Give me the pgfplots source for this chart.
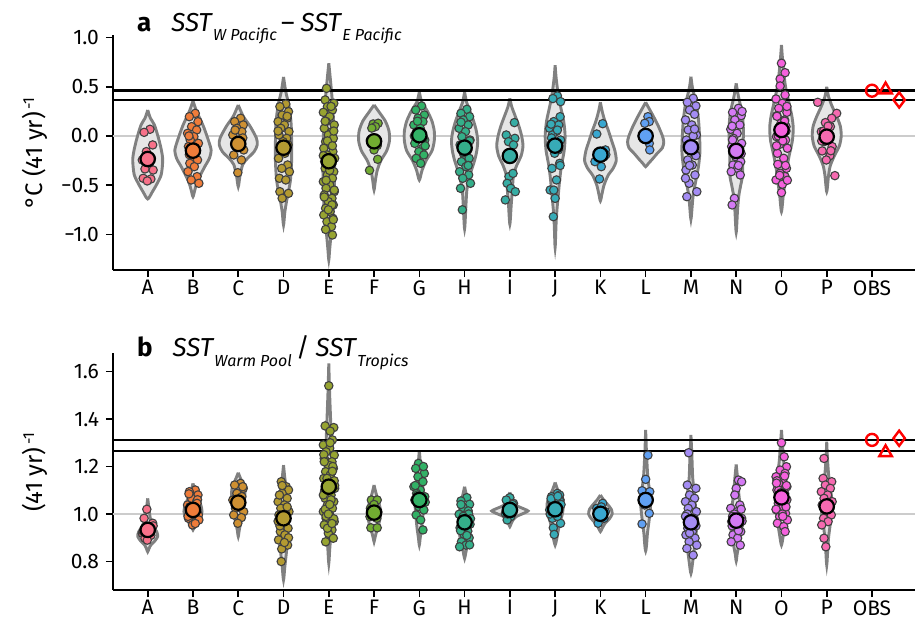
\documentclass[border=0pt]{standalone}
\usepackage{pgfplots}
\pgfplotsset{compat=1.18}
\usepackage{fontspec}
\setmainfont{Fira Sans}
\definecolor{cA}{HTML}{F77189}
\definecolor{cB}{HTML}{EF7C3A}
\definecolor{cC}{HTML}{CE9032}
\definecolor{cD}{HTML}{B39A31}
\definecolor{cE}{HTML}{97A431}
\definecolor{cF}{HTML}{72AC31}
\definecolor{cG}{HTML}{32B166}
\definecolor{cH}{HTML}{34AF8A}
\definecolor{cI}{HTML}{36ADA4}
\definecolor{cJ}{HTML}{37ABB7}
\definecolor{cK}{HTML}{39A7D0}
\definecolor{cL}{HTML}{60A0F3}
\definecolor{cM}{HTML}{A48CF4}
\definecolor{cN}{HTML}{D47AF4}
\definecolor{cO}{HTML}{F561DD}
\definecolor{cP}{HTML}{F66AB0}
\definecolor{vgray}{HTML}{808080}
\definecolor{vfill}{HTML}{E6E6E6}
\definecolor{edgegray}{HTML}{404040}
\definecolor{zgray}{HTML}{CCCCCC}
\pgfplotsset{
  panel/.style={
    scale only axis, width=401pt,
    xmin=-0.767, xmax=16.95,
    axis x line*=bottom, axis y line*=left,
    axis line style={line width=0.8pt},
    every tick/.style={black, line width=0.8pt},
    major tick length=3.5pt,
    tick align=outside,
    xtick={0,...,16},
    xticklabels={A,B,C,D,E,F,G,H,I,J,K,L,M,N,O,P,OBS},
    ticklabel style={font=\fontsize{10.5}{12}\selectfont},
    xticklabel style={yshift=1.8pt},
    label style={font=\fontsize{12}{14}\selectfont},
    ylabel style={at={(axis description cs:-0.097,0.5)}, anchor=center},
    clip=false,
  },
  vio/.style={draw=vgray, line width=1.45pt, fill=vfill, smooth, tension=0.45},
  pts/.style={only marks, mark=*, mark size=2.1pt, draw=edgegray, line width=0.55pt, fill=#1},
  mn/.style={only marks, mark=*, mark size=3.6pt, draw=black, line width=1.1pt, fill=#1},
  obs/.style={only marks, draw=red, fill=white, line width=1.2pt, mark size=#1},
}
\newcommand{\vio}[2]{\addplot[vio] table[x expr=#1+\thisrow{w}, y=v, row sep=\\]{w v\\ #2};}
\newcommand{\pts}[3]{\addplot[pts=#2] table[x expr=#1+\thisrow{d}, y=v, row sep=\\]{d v\\ #3};}
\newcommand{\mn}[3]{\addplot[mn=#2] coordinates {(#1,#3)};}
\begin{document}
\begin{tikzpicture}
\useasboundingbox (-56.5pt,-175.5pt) rectangle (401pt,135pt);
% ---------------- panel a ----------------
\begin{axis}[panel, at={(0,0)}, anchor=south west, height=117.5pt,
  ymin=-1.362, ymax=1.026,
  ytick={-1,-0.5,0,0.5,1}, yticklabels={−1.0,−0.5,0.0,0.5,1.0},
  ylabel={°C (41 yr)\textsuperscript{\,-1}}]
\addplot[zgray, line width=0.6pt] coordinates {(-0.767,0) (16.95,0)};
\vio{0}{0 0.264\\ 0.06 0.18\\ 0.15 0.11\\ 0.26 -0.06\\ 0.33 -0.227\\ 0.3 -0.39\\ 0.2 -0.49\\ 0.1 -0.57\\ 0 -0.64\\ -0.1 -0.57\\ -0.2 -0.49\\ -0.3 -0.39\\ -0.33 -0.227\\ -0.26 -0.06\\ -0.15 0.11\\ -0.06 0.18\\ 0 0.264\\}
\vio{1}{0 0.356\\ 0.08 0.25\\ 0.22 0.11\\ 0.33 -0.03\\ 0.4 -0.142\\ 0.36 -0.23\\ 0.25 -0.32\\ 0.1 -0.46\\ 0.04 -0.55\\ 0 -0.617\\ -0.04 -0.55\\ -0.1 -0.46\\ -0.25 -0.32\\ -0.36 -0.23\\ -0.4 -0.142\\ -0.33 -0.03\\ -0.22 0.11\\ -0.08 0.25\\ 0 0.356\\}
\vio{2}{0 0.315\\ 0.11 0.2\\ 0.26 0.1\\ 0.4 -0.02\\ 0.42 -0.09\\ 0.35 -0.16\\ 0.2 -0.23\\ 0.1 -0.29\\ 0.04 -0.4\\ 0 -0.515\\ -0.04 -0.4\\ -0.1 -0.29\\ -0.2 -0.23\\ -0.35 -0.16\\ -0.42 -0.09\\ -0.4 -0.02\\ -0.26 0.1\\ -0.11 0.2\\ 0 0.315\\}
\vio{3}{0 0.6\\ 0.05 0.45\\ 0.12 0.31\\ 0.17 0.11\\ 0.18 -0.23\\ 0.15 -0.46\\ 0.08 -0.63\\ 0.03 -0.77\\ 0 -0.905\\ -0.03 -0.77\\ -0.08 -0.63\\ -0.15 -0.46\\ -0.18 -0.23\\ -0.17 0.11\\ -0.12 0.31\\ -0.05 0.45\\ 0 0.6\\}
\vio{4}{0 0.74\\ 0.03 0.6\\ 0.07 0.4\\ 0.1 0.2\\ 0.12 0\\ 0.13 -0.3\\ 0.12 -0.6\\ 0.09 -0.8\\ 0.05 -1.0\\ 0.02 -1.15\\ 0 -1.26\\ -0.02 -1.15\\ -0.05 -1.0\\ -0.09 -0.8\\ -0.12 -0.6\\ -0.13 -0.3\\ -0.12 0\\ -0.1 0.2\\ -0.07 0.4\\ -0.03 0.6\\ 0 0.74\\}
\vio{5}{0 0.315\\ 0.1 0.25\\ 0.25 0.15\\ 0.33 0.05\\ 0.34 -0.05\\ 0.28 -0.15\\ 0.15 -0.25\\ 0.07 -0.35\\ 0.03 -0.45\\ 0 -0.549\\ -0.03 -0.45\\ -0.07 -0.35\\ -0.15 -0.25\\ -0.28 -0.15\\ -0.34 -0.05\\ -0.33 0.05\\ -0.25 0.15\\ -0.1 0.25\\ 0 0.315\\}
\vio{6}{0 0.45\\ 0.05 0.35\\ 0.18 0.25\\ 0.28 0.15\\ 0.33 0.05\\ 0.33 -0.05\\ 0.28 -0.15\\ 0.15 -0.25\\ 0.06 -0.35\\ 0 -0.447\\ -0.06 -0.35\\ -0.15 -0.25\\ -0.28 -0.15\\ -0.33 -0.05\\ -0.33 0.05\\ -0.28 0.15\\ -0.18 0.25\\ -0.05 0.35\\ 0 0.45\\}
\vio{7}{0 0.45\\ 0.04 0.35\\ 0.12 0.25\\ 0.2 0.15\\ 0.26 0.05\\ 0.29 -0.05\\ 0.27 -0.15\\ 0.22 -0.25\\ 0.15 -0.35\\ 0.09 -0.45\\ 0.05 -0.55\\ 0.03 -0.7\\ 0 -0.945\\ -0.03 -0.7\\ -0.05 -0.55\\ -0.09 -0.45\\ -0.15 -0.35\\ -0.22 -0.25\\ -0.27 -0.15\\ -0.29 -0.05\\ -0.26 0.05\\ -0.2 0.15\\ -0.12 0.25\\ -0.04 0.35\\ 0 0.45\\}
\vio{8}{0 0.383\\ 0.04 0.3\\ 0.12 0.2\\ 0.2 0.1\\ 0.26 0\\ 0.29 -0.1\\ 0.25 -0.2\\ 0.15 -0.3\\ 0.08 -0.4\\ 0.055 -0.55\\ 0.03 -0.7\\ 0 -0.897\\ -0.03 -0.7\\ -0.055 -0.55\\ -0.08 -0.4\\ -0.15 -0.3\\ -0.25 -0.2\\ -0.29 -0.1\\ -0.26 0\\ -0.2 0.1\\ -0.12 0.2\\ -0.04 0.3\\ 0 0.383\\}
\vio{9}{0 0.72\\ 0.02 0.6\\ 0.06 0.45\\ 0.12 0.3\\ 0.19 0.15\\ 0.22 0\\ 0.2 -0.15\\ 0.14 -0.3\\ 0.1 -0.45\\ 0.07 -0.6\\ 0.04 -0.75\\ 0.02 -0.9\\ 0 -1.135\\ -0.02 -0.9\\ -0.04 -0.75\\ -0.07 -0.6\\ -0.1 -0.45\\ -0.14 -0.3\\ -0.2 -0.15\\ -0.22 0\\ -0.19 0.15\\ -0.12 0.3\\ -0.06 0.45\\ -0.02 0.6\\ 0 0.72\\}
\vio{10}{0 0.342\\ 0.04 0.25\\ 0.1 0.15\\ 0.18 0.05\\ 0.25 -0.05\\ 0.32 -0.15\\ 0.35 -0.25\\ 0.28 -0.33\\ 0.17 -0.4\\ 0.08 -0.5\\ 0.03 -0.6\\ 0 -0.66\\ -0.03 -0.6\\ -0.08 -0.5\\ -0.17 -0.4\\ -0.28 -0.33\\ -0.35 -0.25\\ -0.32 -0.15\\ -0.25 -0.05\\ -0.18 0.05\\ -0.1 0.15\\ -0.04 0.25\\ 0 0.342\\}
\vio{11}{0 0.342\\ 0.05 0.3\\ 0.17 0.2\\ 0.28 0.1\\ 0.37 0\\ 0.4 -0.06\\ 0.37 -0.12\\ 0.25 -0.18\\ 0.14 -0.24\\ 0.06 -0.28\\ 0 -0.312\\ -0.06 -0.28\\ -0.14 -0.24\\ -0.25 -0.18\\ -0.37 -0.12\\ -0.4 -0.06\\ -0.37 0\\ -0.28 0.1\\ -0.17 0.2\\ -0.05 0.3\\ 0 0.342\\}
\vio{12}{0 0.603\\ 0.03 0.5\\ 0.08 0.4\\ 0.13 0.3\\ 0.17 0.15\\ 0.19 0\\ 0.2 -0.15\\ 0.17 -0.3\\ 0.11 -0.45\\ 0.05 -0.6\\ 0.03 -0.7\\ 0 -0.847\\ -0.03 -0.7\\ -0.05 -0.6\\ -0.11 -0.45\\ -0.17 -0.3\\ -0.2 -0.15\\ -0.19 0\\ -0.17 0.15\\ -0.13 0.3\\ -0.08 0.4\\ -0.03 0.5\\ 0 0.603\\}
\vio{13}{0 0.535\\ 0.05 0.4\\ 0.1 0.3\\ 0.14 0.2\\ 0.16 0.05\\ 0.15 -0.1\\ 0.14 -0.25\\ 0.14 -0.4\\ 0.1 -0.5\\ 0.06 -0.6\\ 0.03 -0.75\\ 0 -0.979\\ -0.03 -0.75\\ -0.06 -0.6\\ -0.1 -0.5\\ -0.14 -0.4\\ -0.14 -0.25\\ -0.15 -0.1\\ -0.16 0.05\\ -0.14 0.2\\ -0.1 0.3\\ -0.05 0.4\\ 0 0.535\\}
\vio{14}{0 0.925\\ 0.02 0.8\\ 0.05 0.65\\ 0.09 0.5\\ 0.16 0.35\\ 0.23 0.2\\ 0.26 0.08\\ 0.24 -0.05\\ 0.17 -0.2\\ 0.11 -0.35\\ 0.07 -0.5\\ 0.04 -0.6\\ 0 -0.769\\ -0.04 -0.6\\ -0.07 -0.5\\ -0.11 -0.35\\ -0.17 -0.2\\ -0.24 -0.05\\ -0.26 0.08\\ -0.23 0.2\\ -0.16 0.35\\ -0.09 0.5\\ -0.05 0.65\\ -0.02 0.8\\ 0 0.925\\}
\vio{15}{0 0.5\\ 0.04 0.4\\ 0.12 0.3\\ 0.22 0.2\\ 0.3 0.1\\ 0.32 0\\ 0.28 -0.1\\ 0.17 -0.2\\ 0.08 -0.3\\ 0.04 -0.4\\ 0 -0.566\\ -0.04 -0.4\\ -0.08 -0.3\\ -0.17 -0.2\\ -0.28 -0.1\\ -0.32 0\\ -0.3 0.1\\ -0.22 0.2\\ -0.12 0.3\\ -0.04 0.4\\ 0 0.5\\}
\addplot[black, line width=1.25pt] coordinates {(-0.767,0.46) (16.95,0.46)};
\addplot[black, line width=0.65pt] coordinates {(-0.767,0.366) (16.95,0.366)};
\pts{0}{cA}{0.05 0.068\\ -0.08 0.037\\ 0.11 -0.091\\ -0.03 -0.159\\ 0.08 -0.227\\ -0.12 -0.244\\ 0.02 -0.295\\ -0.06 -0.335\\ 0.12 -0.346\\ -0.10 -0.43\\ 0.07 -0.437\\ -0.01 -0.457\\}
\mn{0}{cA}{-0.234}
\pts{1}{cB}{0.05 0.23\\ -0.08 0.196\\ 0.11 0.145\\ -0.03 0.095\\ 0.08 0.061\\ -0.12 0.027\\ 0.02 -0.007\\ -0.06 -0.041\\ 0.12 -0.075\\ -0.10 -0.108\\ 0.07 -0.159\\ -0.01 -0.21\\ 0.10 -0.244\\ -0.07 -0.278\\ 0.03 -0.312\\ -0.11 -0.362\\ 0.09 -0.413\\ -0.04 -0.447\\ 0.13 -0.481\\ -0.09 0.0\\ 0.05 -0.12\\ -0.08 -0.19\\}
\mn{1}{cB}{-0.149}
\pts{2}{cC}{0.05 0.18\\ -0.08 0.146\\ 0.11 0.112\\ -0.03 0.078\\ 0.08 0.044\\ -0.12 0.01\\ 0.02 -0.041\\ -0.06 -0.091\\ 0.12 -0.142\\ -0.10 -0.193\\ 0.07 -0.244\\ -0.01 -0.373\\ 0.10 -0.02\\ -0.07 0.06\\}
\mn{2}{cC}{-0.081}
\pts{3}{cD}{0.05 0.325\\ -0.08 0.298\\ 0.11 0.247\\ -0.03 0.213\\ 0.08 0.18\\ -0.12 0.146\\ 0.02 0.112\\ -0.06 0.078\\ 0.12 0.044\\ -0.10 0.01\\ 0.07 -0.024\\ -0.01 -0.058\\ 0.10 -0.091\\ -0.07 -0.125\\ 0.03 -0.176\\ -0.11 -0.227\\ 0.09 -0.295\\ -0.04 -0.329\\ 0.13 -0.363\\ -0.09 -0.43\\ 0.05 -0.447\\ -0.08 -0.566\\ 0.11 -0.583\\ -0.03 -0.633\\ 0.08 0.2\\ -0.12 0.05\\ 0.02 -0.15\\}
\mn{3}{cD}{-0.119}
\pts{4}{cE}{-0.05 0.484\\ -0.08 0.366\\ 0.11 0.332\\ -0.03 0.298\\ 0.08 0.264\\ -0.12 0.24\\ 0.02 0.196\\ -0.06 0.146\\ 0.12 0.112\\ -0.10 0.078\\ 0.07 0.044\\ -0.01 0.01\\ 0.10 -0.024\\ -0.07 -0.058\\ 0.03 -0.091\\ -0.11 -0.125\\ 0.09 -0.159\\ -0.04 -0.193\\ 0.13 -0.227\\ -0.09 -0.261\\ 0.05 -0.295\\ -0.08 -0.329\\ 0.11 -0.363\\ -0.03 -0.396\\ 0.08 -0.43\\ -0.12 -0.464\\ 0.02 -0.498\\ -0.06 -0.532\\ 0.12 -0.566\\ -0.10 -0.6\\ 0.07 -0.634\\ -0.01 -0.667\\ 0.10 -0.701\\ -0.07 -0.735\\ 0.03 -0.769\\ -0.11 -0.803\\ 0.09 -0.837\\ -0.04 -0.871\\ 0.06 -0.921\\ 0.08 -1.006\\ 0.05 0.3\\ -0.08 0.15\\ 0.11 0.05\\ -0.03 -0.05\\ 0.08 -0.1\\ -0.12 -0.2\\ 0.02 -0.35\\ -0.06 -0.45\\ 0.12 -0.55\\ -0.10 -0.62\\ 0.07 -0.7\\ -0.01 -0.75\\ 0.10 -0.85\\ -0.07 -0.95\\}
\mn{4}{cE}{-0.257}
\pts{5}{cF}{-0.02 0.122\\ 0.09 0.129\\ 0.03 0.095\\ -0.08 -0.041\\ 0.07 -0.098\\ 0.0 -0.142\\ 0.08 -0.237\\ -0.1 -0.349\\ -0.05 0.08\\}
\mn{5}{cF}{-0.054}
\pts{6}{cG}{0.05 0.305\\ -0.08 0.264\\ 0.11 0.213\\ -0.03 0.18\\ 0.08 0.146\\ -0.12 0.112\\ 0.02 0.078\\ -0.06 0.044\\ 0.12 -0.041\\ -0.10 -0.075\\ 0.07 -0.125\\ -0.01 -0.159\\ 0.10 -0.193\\ -0.07 -0.227\\ 0.03 -0.278\\ -0.11 0.0\\ 0.09 -0.02\\ -0.04 0.15\\ 0.13 -0.1\\}
\mn{6}{cG}{0.007}
\pts{7}{cH}{0.05 0.271\\ -0.08 0.23\\ 0.11 0.196\\ -0.03 0.163\\ 0.08 0.112\\ -0.12 0.078\\ 0.02 0.044\\ -0.06 -0.007\\ 0.12 -0.041\\ -0.10 -0.091\\ 0.07 -0.142\\ -0.01 -0.193\\ 0.10 -0.227\\ -0.07 -0.261\\ 0.03 -0.312\\ -0.11 -0.363\\ 0.09 -0.396\\ -0.04 -0.43\\ 0.13 -0.481\\ -0.09 -0.532\\ -0.05 -0.75\\ -0.08 0.14\\ 0.11 -0.05\\ -0.03 -0.17\\ 0.08 -0.3\\}
\mn{7}{cH}{-0.119}
\pts{8}{cI}{0.1 0.136\\ -0.08 0.01\\ 0.11 -0.024\\ -0.03 -0.058\\ 0.08 -0.091\\ -0.02 -0.413\\ -0.06 -0.481\\ 0.02 -0.532\\ 0.12 -0.566\\ -0.10 -0.65\\ 0.07 -0.38\\}
\mn{8}{cI}{-0.203}
\pts{9}{cJ}{0.05 0.407\\ 0.12 0.349\\ 0.11 0.196\\ -0.03 0.146\\ 0.08 0.112\\ -0.12 0.078\\ 0.02 0.044\\ -0.06 0.01\\ 0.12 -0.041\\ -0.10 -0.091\\ 0.07 -0.142\\ -0.01 -0.176\\ 0.10 -0.278\\ -0.07 -0.329\\ 0.03 -0.447\\ -0.11 -0.549\\ 0.0 -0.634\\ -0.04 -0.82\\ -0.05 0.38\\ -0.09 0.12\\ 0.05 0.06\\ -0.08 -0.02\\ 0.11 -0.3\\ -0.03 -0.55\\}
\mn{9}{cJ}{-0.098}
\pts{10}{cK}{0.05 0.125\\ -0.08 0.02\\ 0.11 -0.142\\ -0.03 -0.176\\ 0.08 -0.21\\ -0.12 -0.261\\ 0.02 -0.312\\ -0.02 -0.437\\ 0.12 -0.19\\}
\mn{10}{cK}{-0.19}
\pts{11}{cL}{0.05 0.196\\ 0.08 0.146\\ -0.02 0.129\\ -0.03 -0.024\\ 0.08 -0.075\\ 0.09 -0.142\\ -0.08 0.0\\ 0.02 -0.04\\}
\mn{11}{cL}{0.0}
\pts{12}{cM}{0.05 0.383\\ -0.08 0.342\\ 0.11 0.305\\ -0.03 0.264\\ 0.08 0.22\\ -0.12 0.163\\ 0.02 0.112\\ -0.06 0.061\\ 0.12 0.01\\ -0.10 -0.041\\ 0.07 -0.091\\ -0.01 -0.142\\ 0.10 -0.193\\ -0.07 -0.244\\ 0.03 -0.295\\ -0.11 -0.346\\ 0.09 -0.396\\ -0.04 -0.481\\ 0.13 -0.566\\ -0.09 -0.617\\ 0.05 0.0\\ -0.08 -0.1\\ 0.11 -0.2\\ -0.03 -0.3\\ 0.08 0.07\\ -0.12 -0.43\\}
\mn{12}{cM}{-0.115}
\pts{13}{cN}{0.05 0.281\\ -0.08 0.24\\ 0.11 0.207\\ -0.03 0.163\\ 0.08 0.112\\ -0.12 0.068\\ 0.02 0.027\\ -0.06 -0.024\\ 0.12 -0.075\\ -0.10 -0.108\\ 0.07 -0.159\\ -0.01 -0.21\\ 0.10 -0.261\\ -0.07 -0.295\\ 0.03 -0.329\\ -0.11 -0.363\\ 0.09 -0.396\\ -0.04 -0.634\\ -0.09 -0.701\\ 0.13 0.25\\ -0.09 0.1\\ 0.05 -0.3\\ -0.08 -0.04\\ 0.11 -0.18\\}
\mn{13}{cN}{-0.152}
\pts{14}{cO}{0.0 0.739\\ 0.08 0.643\\ -0.03 0.579\\ -0.03 0.508\\ 0.08 0.417\\ -0.12 0.376\\ 0.02 0.332\\ -0.06 0.281\\ 0.12 0.24\\ -0.10 0.207\\ 0.07 0.163\\ -0.01 0.129\\ 0.10 0.095\\ -0.07 0.061\\ 0.03 0.027\\ -0.11 -0.007\\ 0.09 -0.041\\ -0.04 -0.085\\ 0.13 -0.125\\ -0.09 -0.176\\ 0.05 -0.227\\ -0.08 -0.288\\ 0.11 -0.329\\ -0.03 -0.379\\ 0.08 -0.413\\ -0.12 -0.447\\ 0.02 -0.491\\ 0.0 -0.575\\ 0.12 0.3\\ -0.10 0.2\\ 0.07 0.15\\ -0.01 0.1\\ 0.10 0.05\\ -0.07 0.0\\ 0.03 -0.05\\ -0.11 -0.1\\ 0.09 -0.3\\ -0.04 -0.4\\ 0.13 -0.45\\}
\mn{14}{cO}{0.061}
\pts{15}{cP}{-0.2 0.342\\ 0.22 0.23\\ 0.11 0.18\\ -0.03 0.136\\ 0.08 0.095\\ -0.12 0.044\\ 0.02 -0.007\\ -0.06 -0.058\\ 0.12 -0.108\\ -0.10 -0.152\\ 0.07 -0.2\\ -0.01 -0.244\\ 0.18 -0.403\\ -0.07 0.05\\ 0.03 0.1\\ -0.11 -0.05\\ 0.09 -0.15\\}
\mn{15}{cP}{-0.007}
\addplot[obs=3pt, mark=o] coordinates {(16,0.46)};
\addplot[obs=3.6pt, mark=triangle] coordinates {(16.3,0.47)};
\addplot[obs=3.8pt, mark=diamond] coordinates {(16.6,0.366)};
\node[anchor=base west, yshift=1.65pt, font=\fontsize{13}{15}\selectfont] at (axis description cs:0.0212,1)
  {\textbf{a}\hspace{10pt}\textit{SST}\raisebox{-4.5pt}{\fontsize{8}{9}\selectfont\textit{W Pacific}}\hspace{2pt}–\hspace{3pt}\textit{SST}\raisebox{-4.5pt}{\fontsize{8}{9}\selectfont\textit{E Pacific}}};
\end{axis}
% ---------------- panel b ----------------
\begin{axis}[panel, at={(0,-160pt)}, anchor=south west, height=118.5pt,
  ymin=0.68, ymax=1.678,
  ytick={0.8,1,1.2,1.4,1.6}, yticklabels={0.8,1.0,1.2,1.4,1.6},
  ylabel={(41 yr)\textsuperscript{\,-1}}]
\addplot[zgray, line width=0.6pt] coordinates {(-0.767,1) (16.95,1)};
\vio{0}{0 1.066\\ 0.03 1.02\\ 0.06 0.98\\ 0.12 0.95\\ 0.2 0.925\\ 0.22 0.905\\ 0.15 0.885\\ 0.07 0.87\\ 0.03 0.855\\ 0 0.841\\ -0.03 0.855\\ -0.07 0.87\\ -0.15 0.885\\ -0.22 0.905\\ -0.2 0.925\\ -0.12 0.95\\ -0.06 0.98\\ -0.03 1.02\\ 0 1.066\\}
\vio{1}{0 1.129\\ 0.04 1.1\\ 0.1 1.07\\ 0.17 1.04\\ 0.2 1.01\\ 0.15 0.98\\ 0.08 0.96\\ 0.03 0.945\\ 0 0.933\\ -0.03 0.945\\ -0.08 0.96\\ -0.15 0.98\\ -0.2 1.01\\ -0.17 1.04\\ -0.1 1.07\\ -0.04 1.1\\ 0 1.129\\}
\vio{2}{0 1.174\\ 0.05 1.15\\ 0.12 1.12\\ 0.15 1.09\\ 0.13 1.05\\ 0.1 1.0\\ 0.05 0.96\\ 0.02 0.93\\ 0 0.905\\ -0.02 0.93\\ -0.05 0.96\\ -0.1 1.0\\ -0.13 1.05\\ -0.15 1.09\\ -0.12 1.12\\ -0.05 1.15\\ 0 1.174\\}
\vio{3}{0 1.206\\ 0.03 1.15\\ 0.08 1.08\\ 0.11 1.0\\ 0.1 0.92\\ 0.07 0.85\\ 0.03 0.78\\ 0 0.722\\ -0.03 0.78\\ -0.07 0.85\\ -0.1 0.92\\ -0.11 1.0\\ -0.08 1.08\\ -0.03 1.15\\ 0 1.206\\}
\vio{4}{0 1.634\\ 0.02 1.5\\ 0.05 1.35\\ 0.08 1.2\\ 0.08 1.1\\ 0.07 1.0\\ 0.04 0.9\\ 0.02 0.85\\ 0 0.792\\ -0.02 0.85\\ -0.04 0.9\\ -0.07 1.0\\ -0.08 1.1\\ -0.08 1.2\\ -0.05 1.35\\ -0.02 1.5\\ 0 1.634\\}
\vio{5}{0 1.122\\ 0.04 1.09\\ 0.1 1.05\\ 0.15 1.01\\ 0.12 0.97\\ 0.06 0.93\\ 0.02 0.9\\ 0 0.883\\ -0.02 0.9\\ -0.06 0.93\\ -0.12 0.97\\ -0.15 1.01\\ -0.1 1.05\\ -0.04 1.09\\ 0 1.122\\}
\vio{6}{0 1.269\\ 0.03 1.2\\ 0.07 1.13\\ 0.1 1.06\\ 0.08 1.0\\ 0.05 0.94\\ 0.02 0.9\\ 0 0.869\\ -0.02 0.9\\ -0.05 0.94\\ -0.08 1.0\\ -0.1 1.06\\ -0.07 1.13\\ -0.03 1.2\\ 0 1.269\\}
\vio{7}{0 1.115\\ 0.04 1.08\\ 0.09 1.04\\ 0.12 1.0\\ 0.13 0.95\\ 0.1 0.9\\ 0.05 0.86\\ 0.02 0.83\\ 0 0.813\\ -0.02 0.83\\ -0.05 0.86\\ -0.1 0.9\\ -0.13 0.95\\ -0.12 1.0\\ -0.09 1.04\\ -0.04 1.08\\ 0 1.115\\}
\vio{8}{0 1.091\\ 0.04 1.07\\ 0.08 1.05\\ 0.15 1.035\\ 0.33 1.02\\ 0.4 1.013\\ 0.33 1.005\\ 0.15 0.99\\ 0.07 0.975\\ 0.03 0.96\\ 0 0.947\\ -0.03 0.96\\ -0.07 0.975\\ -0.15 0.99\\ -0.33 1.005\\ -0.4 1.013\\ -0.33 1.02\\ -0.15 1.035\\ -0.08 1.05\\ -0.04 1.07\\ 0 1.091\\}
\vio{9}{0 1.133\\ 0.06 1.1\\ 0.14 1.07\\ 0.18 1.04\\ 0.16 1.0\\ 0.1 0.96\\ 0.06 0.92\\ 0.03 0.89\\ 0 0.869\\ -0.03 0.89\\ -0.06 0.92\\ -0.1 0.96\\ -0.16 1.0\\ -0.18 1.04\\ -0.14 1.07\\ -0.06 1.1\\ 0 1.133\\}
\vio{10}{0 1.08\\ 0.07 1.06\\ 0.16 1.04\\ 0.24 1.02\\ 0.26 1.0\\ 0.2 0.98\\ 0.1 0.96\\ 0.04 0.94\\ 0 0.926\\ -0.04 0.94\\ -0.1 0.96\\ -0.2 0.98\\ -0.26 1.0\\ -0.24 1.02\\ -0.16 1.04\\ -0.07 1.06\\ 0 1.08\\}
\vio{11}{0 1.354\\ 0.02 1.25\\ 0.05 1.15\\ 0.1 1.08\\ 0.11 1.04\\ 0.08 0.98\\ 0.04 0.92\\ 0.02 0.87\\ 0 0.844\\ -0.02 0.87\\ -0.04 0.92\\ -0.08 0.98\\ -0.11 1.04\\ -0.1 1.08\\ -0.05 1.15\\ -0.02 1.25\\ 0 1.354\\}
\vio{12}{0 1.333\\ 0.02 1.25\\ 0.04 1.15\\ 0.08 1.08\\ 0.11 1.0\\ 0.12 0.93\\ 0.08 0.86\\ 0.04 0.8\\ 0 0.75\\ -0.04 0.8\\ -0.08 0.86\\ -0.12 0.93\\ -0.11 1.0\\ -0.08 1.08\\ -0.04 1.15\\ -0.02 1.25\\ 0 1.333\\}
\vio{13}{0 1.209\\ 0.03 1.15\\ 0.06 1.08\\ 0.1 1.02\\ 0.12 0.96\\ 0.1 0.91\\ 0.06 0.87\\ 0.02 0.83\\ 0 0.802\\ -0.02 0.83\\ -0.06 0.87\\ -0.1 0.91\\ -0.12 0.96\\ -0.1 1.02\\ -0.06 1.08\\ -0.03 1.15\\ 0 1.209\\}
\vio{14}{0 1.354\\ 0.02 1.3\\ 0.05 1.22\\ 0.1 1.15\\ 0.13 1.08\\ 0.12 1.02\\ 0.08 0.96\\ 0.04 0.91\\ 0 0.869\\ -0.04 0.91\\ -0.08 0.96\\ -0.12 1.02\\ -0.13 1.08\\ -0.1 1.15\\ -0.05 1.22\\ -0.02 1.3\\ 0 1.354\\}
\vio{15}{0 1.305\\ 0.02 1.22\\ 0.05 1.15\\ 0.1 1.08\\ 0.12 1.02\\ 0.08 0.96\\ 0.04 0.9\\ 0.02 0.84\\ 0 0.785\\ -0.02 0.84\\ -0.04 0.9\\ -0.08 0.96\\ -0.12 1.02\\ -0.1 1.08\\ -0.05 1.15\\ -0.02 1.22\\ 0 1.305\\}
\addplot[black, line width=1.25pt] coordinates {(-0.767,1.3116) (16.95,1.3116)};
\addplot[black, line width=0.65pt] coordinates {(-0.767,1.265) (16.95,1.265)};
\pts{0}{cA}{-0.02 1.02\\ -0.08 0.982\\ 0.11 0.961\\ -0.03 0.942\\ 0.08 0.933\\ -0.12 0.919\\ 0.02 0.905\\ -0.06 0.898\\ 0.12 0.95\\ -0.10 0.925\\ 0.07 0.91\\ -0.01 0.89\\}
\mn{0}{cA}{0.933}
\pts{1}{cB}{0.05 1.101\\ -0.08 1.094\\ 0.11 1.08\\ -0.03 1.066\\ 0.08 1.052\\ -0.12 1.038\\ 0.02 1.024\\ -0.06 1.01\\ 0.12 0.996\\ -0.10 0.982\\ 0.07 0.968\\ -0.01 0.954\\ 0.10 1.06\\ -0.07 1.03\\ 0.03 1.0\\ -0.11 0.99\\ 0.09 1.045\\ -0.04 1.015\\ 0.13 0.975\\ -0.09 1.085\\ 0.05 0.96\\ -0.08 1.02\\}
\mn{1}{cB}{1.017}
\pts{2}{cC}{0.05 1.129\\ -0.08 1.122\\ 0.11 1.108\\ -0.03 1.087\\ 0.08 1.073\\ -0.12 1.059\\ 0.02 1.045\\ -0.06 1.024\\ 0.12 1.01\\ -0.10 0.996\\ 0.07 0.985\\ -0.01 0.961\\ 0.10 1.115\\ -0.07 1.05\\}
\mn{2}{cC}{1.048}
\pts{3}{cD}{-0.05 1.136\\ 0.06 1.115\\ 0.11 1.101\\ -0.03 1.087\\ 0.08 1.066\\ -0.12 1.052\\ 0.02 1.038\\ -0.06 1.024\\ 0.12 1.01\\ -0.10 0.996\\ 0.07 0.982\\ -0.01 0.961\\ 0.10 0.94\\ -0.07 0.926\\ 0.03 0.912\\ -0.11 0.891\\ 0.09 0.869\\ -0.04 0.853\\ -0.05 0.8\\ -0.09 1.08\\ 0.05 1.0\\ -0.08 0.95\\ 0.11 0.9\\ -0.03 1.12\\ 0.08 1.03\\ -0.12 0.97\\ 0.02 0.88\\}
\mn{3}{cD}{0.982}
\pts{4}{cE}{0.0 1.54\\ -0.08 1.371\\ 0.11 1.364\\ 0.03 1.349\\ 0.08 1.312\\ -0.12 1.291\\ 0.02 1.277\\ -0.06 1.262\\ 0.12 1.248\\ -0.10 1.234\\ 0.07 1.22\\ -0.01 1.206\\ 0.10 1.192\\ -0.07 1.178\\ 0.03 1.164\\ -0.11 1.15\\ 0.09 1.136\\ -0.04 1.122\\ 0.13 1.108\\ -0.09 1.094\\ 0.05 1.08\\ -0.08 1.066\\ 0.11 1.052\\ -0.03 1.038\\ 0.08 1.024\\ -0.12 1.01\\ 0.02 0.996\\ -0.06 0.982\\ 0.12 0.968\\ -0.10 0.954\\ 0.07 0.933\\ -0.01 0.919\\ 0.10 0.898\\ -0.07 0.883\\ 0.03 1.3\\ -0.11 1.25\\ 0.09 1.2\\ -0.04 1.15\\ 0.13 1.12\\ -0.09 1.1\\ 0.05 1.06\\ -0.08 1.02\\ 0.11 0.98\\ -0.03 0.94\\ 0.08 1.18\\ -0.12 1.08\\ 0.02 1.04\\ -0.06 0.99\\ 0.12 1.14\\ -0.10 1.22\\ 0.07 0.96\\ -0.01 1.0\\}
\mn{4}{cE}{1.115}
\pts{5}{cF}{-0.06 1.059\\ 0.07 1.059\\ -0.08 1.024\\ 0.08 1.01\\ -0.09 0.989\\ 0.06 0.982\\ -0.07 0.942\\ 0.07 0.942\\ 0.0 1.04\\}
\mn{5}{cF}{1.006}
\pts{6}{cG}{-0.02 1.213\\ -0.08 1.192\\ 0.11 1.171\\ -0.03 1.157\\ 0.08 1.136\\ -0.12 1.115\\ 0.02 1.101\\ -0.06 1.087\\ 0.12 1.073\\ -0.10 1.059\\ 0.07 1.045\\ -0.01 1.031\\ 0.10 1.017\\ -0.07 0.996\\ 0.03 0.975\\ 0.08 0.933\\ 0.09 1.2\\ -0.04 1.08\\ 0.13 1.05\\ -0.09 1.12\\}
\mn{6}{cG}{1.059}
\pts{7}{cH}{0.05 1.069\\ -0.08 1.055\\ 0.11 1.041\\ -0.03 1.027\\ 0.08 1.013\\ -0.12 0.999\\ 0.02 0.985\\ -0.06 0.971\\ 0.12 0.957\\ -0.10 0.942\\ 0.07 0.928\\ -0.01 0.914\\ 0.10 0.9\\ -0.07 0.883\\ 0.03 0.869\\ -0.11 0.862\\ 0.09 1.0\\ -0.04 0.95\\ 0.13 0.98\\ -0.09 0.93\\ 0.05 0.91\\ -0.08 1.04\\ 0.11 0.87\\ -0.03 0.99\\}
\mn{7}{cH}{0.965}
\pts{8}{cI}{0.0 1.069\\ -0.08 1.059\\ 0.08 1.045\\ -0.03 1.031\\ 0.08 1.017\\ -0.10 1.003\\ 0.02 0.989\\ -0.06 0.975\\ 0.06 1.04\\ -0.05 1.0\\}
\mn{8}{cI}{1.017}
\pts{9}{cJ}{0.05 1.087\\ -0.08 1.073\\ 0.11 1.059\\ -0.03 1.045\\ 0.08 1.031\\ -0.12 1.017\\ 0.02 1.003\\ -0.06 0.982\\ 0.12 0.961\\ -0.04 0.942\\ -0.02 0.914\\ 0.10 1.08\\ -0.07 1.05\\ 0.03 1.03\\ -0.11 1.0\\ 0.09 1.06\\ -0.04 1.02\\ 0.13 1.04\\ -0.09 1.065\\ 0.05 0.99\\ -0.08 1.01\\ 0.06 1.075\\}
\mn{9}{cJ}{1.02}
\pts{10}{cK}{0.05 1.045\\ -0.08 1.024\\ 0.11 1.01\\ -0.03 0.996\\ 0.08 0.982\\ -0.05 0.961\\ 0.02 1.03\\ -0.06 1.0\\}
\mn{10}{cK}{1.001}
\pts{11}{cL}{0.05 1.248\\ 0.0 1.146\\ -0.08 1.098\\ 0.09 1.094\\ -0.03 1.073\\ 0.08 1.059\\ -0.02 1.038\\ 0.08 1.003\\ -0.08 0.958\\}
\mn{11}{cL}{1.059}
\pts{12}{cM}{-0.05 1.258\\ -0.08 1.122\\ 0.11 1.108\\ -0.03 1.08\\ 0.08 1.066\\ -0.12 1.052\\ 0.02 1.038\\ -0.06 1.024\\ 0.12 1.01\\ -0.10 0.996\\ 0.07 0.982\\ -0.01 0.968\\ 0.10 0.954\\ -0.07 0.94\\ 0.03 0.926\\ -0.11 0.912\\ 0.09 0.898\\ -0.04 0.883\\ 0.13 0.869\\ -0.09 0.855\\ 0.05 0.827\\ -0.08 1.0\\ 0.11 0.95\\ -0.03 0.92\\ 0.08 0.97\\ -0.12 0.99\\}
\mn{12}{cM}{0.965}
\pts{13}{cN}{0.05 1.143\\ 0.12 1.136\\ 0.0 1.108\\ -0.03 1.08\\ 0.08 1.038\\ -0.12 1.024\\ 0.02 1.01\\ -0.06 0.996\\ 0.12 0.982\\ -0.10 0.968\\ 0.07 0.954\\ -0.01 0.94\\ 0.10 0.926\\ -0.07 0.912\\ 0.03 0.898\\ -0.11 0.883\\ 0.09 0.869\\ -0.04 1.0\\ 0.13 0.97\\ -0.09 0.95\\ 0.05 0.93\\ -0.08 0.99\\ 0.11 1.02\\ -0.03 0.96\\}
\mn{13}{cN}{0.972}
\pts{14}{cO}{0.0 1.3\\ 0.06 1.241\\ 0.11 1.199\\ -0.03 1.185\\ 0.08 1.171\\ -0.12 1.157\\ 0.02 1.143\\ -0.06 1.129\\ 0.12 1.115\\ -0.10 1.101\\ 0.07 1.087\\ -0.01 1.073\\ 0.10 1.059\\ -0.07 1.045\\ 0.03 1.031\\ -0.11 1.017\\ 0.09 1.003\\ -0.04 0.989\\ 0.13 0.975\\ -0.09 0.961\\ 0.05 0.947\\ 0.08 0.926\\ 0.11 1.12\\ -0.03 1.08\\ 0.08 1.05\\ -0.12 1.02\\ 0.02 1.0\\ -0.06 1.1\\ 0.12 1.06\\ -0.10 1.14\\ 0.07 1.16\\ -0.01 1.09\\ 0.10 1.03\\ -0.07 1.07\\ 0.03 0.99\\ -0.11 1.13\\}
\mn{14}{cO}{1.07}
\pts{15}{cP}{-0.06 1.234\\ -0.08 1.15\\ 0.11 1.136\\ -0.03 1.122\\ 0.08 1.108\\ -0.12 1.094\\ 0.02 1.08\\ -0.06 1.066\\ 0.12 1.052\\ -0.10 1.038\\ 0.07 1.024\\ -0.01 1.01\\ 0.10 0.996\\ -0.07 0.982\\ 0.03 0.968\\ -0.11 0.954\\ -0.06 0.898\\ -0.02 0.862\\}
\mn{15}{cP}{1.032}
\addplot[obs=3pt, mark=o] coordinates {(16,1.312)};
\addplot[obs=3.6pt, mark=triangle] coordinates {(16.3,1.259)};
\addplot[obs=3.8pt, mark=diamond] coordinates {(16.6,1.319)};
\node[anchor=base west, yshift=-1.85pt, font=\fontsize{13}{15}\selectfont] at (axis description cs:0.0212,1)
  {\textbf{b}\hspace{10pt}\textit{SST}\raisebox{-4.8pt}{\fontsize{8}{9}\selectfont\textit{Warm Pool}}\hspace{2pt}/\hspace{3pt}\textit{SST}\raisebox{-4.8pt}{\fontsize{8}{9}\selectfont\textit{Tropics}}};
\end{axis}
\end{tikzpicture}
\end{document}
